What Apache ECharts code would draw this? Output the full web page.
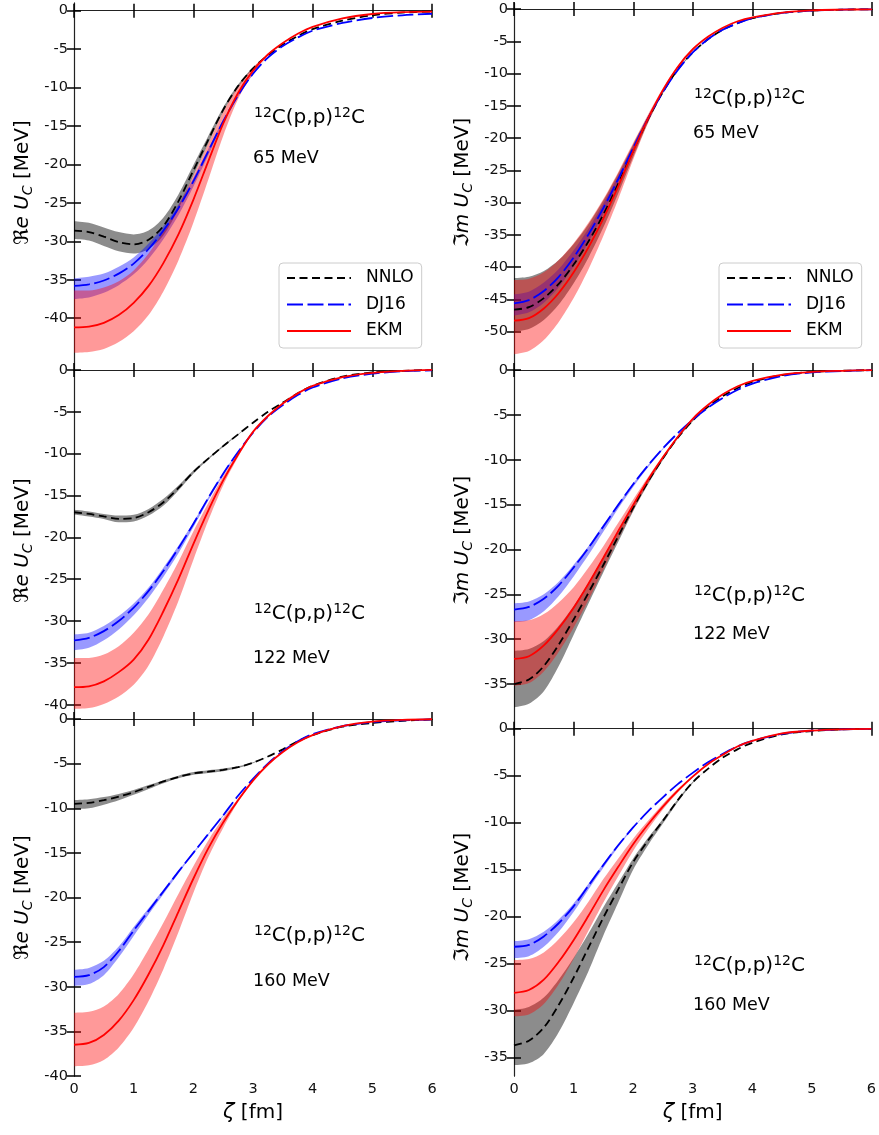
<!DOCTYPE html>
<html><head><meta charset="utf-8">
<script src="https://cdn.jsdelivr.net/npm/echarts@6/dist/echarts.min.js"></script>
<style>html,body{margin:0;padding:0;background:#fff}#c{width:879px;height:1135px}</style>
</head><body><div id="c"></div>
<script>
// ---------- data ----------
const xs = [0,0.25,0.5,0.75,1,1.25,1.5,1.75,2,2.25,2.5,2.75,3,3.25,3.5,3.75,4,4.5,5,5.5,6];
const xTicks = [0,1,2,3,4,5,6];
const yTicksRe65 = [0,-5,-10,-15,-20,-25,-30,-35,-40];
const yTicksIm65 = [0,-5,-10,-15,-20,-25,-30,-35,-40,-45,-50];
const yTicksRe122 = [0,-5,-10,-15,-20,-25,-30,-35,-40];
const yTicksIm122 = [0,-5,-10,-15,-20,-25,-30,-35];
const yTicksRe160 = [0,-5,-10,-15,-20,-25,-30,-35,-40];
const yTicksIm160 = [0,-5,-10,-15,-20,-25,-30,-35];
const modelNames = ['NNLO','DJ16','EKM'];
const energies = ['65 MeV','65 MeV','122 MeV','122 MeV','160 MeV','160 MeV'];

// Re, 65 MeV
const re65NNLO   = [-28.6,-28.8,-29.4,-30.1,-30.4,-29.8,-28.0,-24.8,-20.8,-16.8,-12.9,-9.8,-7.5,-5.8,-4.4,-3.3,-2.4,-1.3,-0.6,-0.25,-0.1];
const re65NNLOhi = [-27.4,-27.6,-28.2,-28.8,-29.1,-28.6,-26.9,-23.9,-20.1,-16.3,-12.6,-9.6,-7.4,-5.8,-4.4,-3.3,-2.4,-1.3,-0.6,-0.25,-0.1];
const re65NNLOlo = [-29.7,-29.9,-30.6,-31.3,-31.6,-31.0,-29.2,-25.8,-21.5,-17.3,-13.2,-10.0,-7.6,-5.8,-4.4,-3.3,-2.4,-1.3,-0.6,-0.25,-0.1];
const re65DJ16   = [-35.8,-35.6,-35.1,-34.2,-32.9,-31.0,-28.6,-25.7,-22.2,-18.3,-14.4,-11.0,-8.2,-6.1,-4.6,-3.5,-2.6,-1.6,-0.95,-0.6,-0.4];
const re65DJ16hi = [-34.8,-34.6,-34.2,-33.3,-32.1,-30.3,-28.0,-25.2,-21.8,-18.0,-14.2,-10.9,-8.1,-6.1,-4.6,-3.5,-2.6,-1.6,-0.95,-0.6,-0.4];
const re65DJ16lo = [-37.5,-37.3,-36.7,-35.7,-34.3,-32.3,-29.7,-26.6,-22.9,-18.8,-14.7,-11.2,-8.3,-6.1,-4.6,-3.5,-2.6,-1.6,-0.95,-0.6,-0.4];
const re65EKM    = [-41.2,-41.1,-40.6,-39.6,-38.0,-35.8,-32.8,-29.1,-24.6,-19.6,-14.7,-10.7,-7.8,-5.7,-4.2,-3.0,-2.1,-1.0,-0.43,-0.2,-0.13];
const re65EKMhi  = [-36.4,-36.4,-36.0,-35.2,-33.8,-31.6,-28.7,-25.4,-21.5,-17.3,-13.2,-9.9,-7.4,-5.6,-4.2,-3.0,-2.1,-1.0,-0.43,-0.2,-0.13];
const re65EKMlo  = [-44.5,-44.4,-44.0,-43.1,-41.7,-39.6,-36.5,-32.5,-27.6,-22.0,-16.3,-11.5,-8.2,-5.8,-4.2,-3.0,-2.1,-1.0,-0.43,-0.2,-0.13];

// Im, 65 MeV
const im65NNLO   = [-46.6,-46.2,-44.8,-42.6,-39.6,-36.0,-31.8,-27.0,-21.9,-17.0,-12.8,-9.3,-6.7,-4.7,-3.2,-2.2,-1.4,-0.6,-0.25,-0.1,-0.05];
const im65NNLOhi = [-41.7,-41.5,-40.6,-38.9,-36.4,-33.3,-29.6,-25.4,-20.9,-16.5,-12.6,-9.2,-6.6,-4.7,-3.2,-2.2,-1.4,-0.6,-0.25,-0.1,-0.05];
const im65NNLOlo = [-50.0,-49.6,-48.2,-45.8,-42.5,-38.5,-33.8,-28.5,-22.9,-17.5,-13.0,-9.4,-6.8,-4.7,-3.2,-2.2,-1.4,-0.6,-0.25,-0.1,-0.05];
const im65DJ16   = [-45.6,-45.1,-43.7,-41.5,-38.5,-34.9,-30.8,-26.3,-21.5,-16.9,-12.8,-9.4,-6.7,-4.7,-3.2,-2.2,-1.4,-0.6,-0.25,-0.1,-0.05];
const im65DJ16hi = [-44.2,-43.8,-42.4,-40.3,-37.4,-34.0,-30.1,-25.8,-21.2,-16.7,-12.7,-9.3,-6.7,-4.7,-3.2,-2.2,-1.4,-0.6,-0.25,-0.1,-0.05];
const im65DJ16lo = [-47.5,-47.0,-45.5,-43.1,-39.9,-36.1,-31.7,-26.9,-21.8,-17.1,-12.9,-9.5,-6.7,-4.7,-3.2,-2.2,-1.4,-0.6,-0.25,-0.1,-0.05];
const im65EKM    = [-48.3,-47.9,-46.4,-44.0,-40.8,-36.9,-32.4,-27.4,-22.0,-16.9,-12.5,-8.9,-6.2,-4.3,-2.9,-1.9,-1.3,-0.55,-0.2,-0.1,-0.05];
const im65EKMhi  = [-42.0,-41.8,-40.8,-38.9,-36.3,-33.1,-29.4,-25.2,-20.7,-16.3,-12.2,-8.8,-6.1,-4.3,-2.9,-1.9,-1.3,-0.55,-0.2,-0.1,-0.05];
const im65EKMlo  = [-53.5,-53.0,-51.3,-48.5,-44.8,-40.3,-35.1,-29.4,-23.3,-17.6,-12.8,-9.0,-6.3,-4.3,-2.9,-1.9,-1.3,-0.55,-0.2,-0.1,-0.05];

// Re, 122 MeV
const re122NNLO   = [-17.0,-17.2,-17.5,-17.8,-17.7,-17.0,-15.8,-14.1,-12.2,-10.6,-9.1,-7.7,-6.3,-5.0,-3.9,-2.8,-1.9,-0.8,-0.3,-0.1,0];
const re122NNLOhi = [-16.7,-16.9,-17.2,-17.4,-17.3,-16.6,-15.4,-13.8,-12.0,-10.5,-9.0,-7.65,-6.3,-5.0,-3.9,-2.8,-1.9,-0.8,-0.3,-0.1,0];
const re122NNLOlo = [-17.3,-17.5,-17.8,-18.2,-18.1,-17.4,-16.2,-14.4,-12.4,-10.7,-9.2,-7.75,-6.3,-5.0,-3.9,-2.8,-1.9,-0.8,-0.3,-0.1,0];
const re122DJ16   = [-32.3,-32.0,-31.2,-30.0,-28.4,-26.4,-24.0,-21.3,-18.4,-15.3,-12.4,-9.8,-7.5,-5.6,-4.2,-3.0,-2.1,-1.0,-0.45,-0.15,-0.05];
const re122DJ16hi = [-31.6,-31.4,-30.6,-29.4,-27.9,-26.0,-23.6,-21.0,-18.2,-15.2,-12.3,-9.75,-7.5,-5.6,-4.2,-3.0,-2.1,-1.0,-0.45,-0.15,-0.05];
const re122DJ16lo = [-33.5,-33.2,-32.3,-31.0,-29.3,-27.2,-24.7,-21.9,-18.8,-15.6,-12.6,-9.9,-7.5,-5.6,-4.2,-3.0,-2.1,-1.0,-0.45,-0.15,-0.05];
const re122EKM    = [-37.9,-37.8,-37.2,-36.1,-34.6,-32.2,-28.8,-25.0,-20.8,-16.8,-13.2,-10.1,-7.4,-5.5,-4.0,-2.8,-1.9,-0.85,-0.35,-0.1,0];
const re122EKMhi  = [-34.4,-34.4,-34.0,-33.0,-31.4,-29.2,-26.2,-22.9,-19.3,-15.9,-12.7,-9.9,-7.3,-5.5,-4.0,-2.8,-1.9,-0.85,-0.35,-0.1,0];
const re122EKMlo  = [-40.5,-40.4,-39.9,-39.0,-37.6,-35.3,-31.8,-27.6,-22.7,-18.0,-13.8,-10.4,-7.5,-5.5,-4.0,-2.8,-1.9,-0.85,-0.35,-0.1,0];

// Im, 122 MeV
const im122NNLO   = [-35.0,-34.5,-33.0,-30.6,-27.8,-24.8,-21.7,-18.5,-15.3,-12.4,-9.8,-7.5,-5.6,-4.1,-2.9,-2.0,-1.3,-0.55,-0.2,-0.08,0];
const im122NNLOhi = [-31.3,-31.1,-30.2,-28.5,-26.3,-23.7,-20.9,-17.9,-14.9,-12.1,-9.6,-7.4,-5.5,-4.1,-2.9,-2.0,-1.3,-0.55,-0.2,-0.08,0];
const im122NNLOlo = [-37.6,-37.2,-35.8,-33.0,-29.5,-26.0,-22.5,-19.1,-15.7,-12.7,-10.0,-7.6,-5.7,-4.1,-2.9,-2.0,-1.3,-0.55,-0.2,-0.08,0];
const im122DJ16   = [-26.7,-26.4,-25.5,-24.0,-22.0,-19.8,-17.4,-15.0,-12.7,-10.6,-8.7,-7.0,-5.5,-4.2,-3.1,-2.2,-1.5,-0.65,-0.25,-0.1,0];
const im122DJ16hi = [-26.0,-25.8,-25.0,-23.6,-21.7,-19.6,-17.2,-14.9,-12.6,-10.55,-8.7,-7.0,-5.5,-4.2,-3.1,-2.2,-1.5,-0.65,-0.25,-0.1,0];
const im122DJ16lo = [-28.1,-27.9,-26.9,-25.2,-23.0,-20.6,-18.0,-15.4,-13.0,-10.8,-8.8,-7.0,-5.5,-4.2,-3.1,-2.2,-1.5,-0.65,-0.25,-0.1,0];
const im122EKM    = [-32.2,-31.9,-30.7,-28.8,-26.5,-23.8,-20.9,-17.9,-15.0,-12.2,-9.7,-7.4,-5.4,-3.9,-2.7,-1.8,-1.2,-0.5,-0.2,-0.08,0];
const im122EKMhi  = [-28.0,-27.9,-27.2,-25.9,-24.2,-22.0,-19.6,-17.0,-14.4,-11.9,-9.5,-7.3,-5.35,-3.9,-2.7,-1.8,-1.2,-0.5,-0.2,-0.08,0];
const im122EKMlo  = [-35.2,-34.9,-33.6,-31.4,-28.7,-25.6,-22.2,-18.8,-15.6,-12.6,-9.9,-7.5,-5.5,-3.9,-2.7,-1.8,-1.2,-0.5,-0.2,-0.08,0];

// Re, 160 MeV
const re160NNLO   = [-9.5,-9.4,-9.1,-8.7,-8.2,-7.6,-7.0,-6.5,-6.1,-5.9,-5.7,-5.4,-4.9,-4.2,-3.4,-2.5,-1.8,-0.85,-0.45,-0.2,-0.05];
const re160NNLOhi = [-9.1,-9.0,-8.75,-8.4,-7.95,-7.4,-6.85,-6.35,-5.95,-5.75,-5.55,-5.3,-4.85,-4.2,-3.4,-2.5,-1.8,-0.85,-0.45,-0.2,-0.05];
const re160NNLOlo = [-10.1,-10.0,-9.6,-9.1,-8.5,-7.85,-7.2,-6.65,-6.25,-6.05,-5.85,-5.5,-4.95,-4.2,-3.4,-2.5,-1.8,-0.85,-0.45,-0.2,-0.05];
const re160DJ16   = [-28.9,-28.7,-27.8,-26.0,-23.7,-21.5,-19.3,-17.1,-15.0,-12.9,-10.8,-8.6,-6.7,-5.0,-3.6,-2.5,-1.7,-0.8,-0.35,-0.15,-0.05];
const re160DJ16hi = [-28.1,-27.9,-27.1,-25.5,-23.3,-21.2,-19.1,-17.0,-14.9,-12.85,-10.75,-8.6,-6.7,-5.0,-3.6,-2.5,-1.7,-0.8,-0.35,-0.15,-0.05];
const re160DJ16lo = [-29.9,-29.7,-28.7,-26.7,-24.3,-21.9,-19.6,-17.3,-15.1,-13.0,-10.9,-8.6,-6.7,-5.0,-3.6,-2.5,-1.7,-0.8,-0.35,-0.15,-0.05];
const re160EKM    = [-36.5,-36.3,-35.4,-33.8,-31.5,-28.6,-25.3,-21.6,-17.9,-14.5,-11.6,-9.1,-6.9,-5.1,-3.7,-2.6,-1.8,-0.8,-0.3,-0.1,-0.03];
const re160EKMhi  = [-32.9,-32.8,-32.2,-30.8,-28.6,-25.8,-22.8,-19.6,-16.5,-13.6,-11.1,-8.9,-6.8,-5.1,-3.7,-2.6,-1.8,-0.8,-0.3,-0.1,-0.03];
const re160EKMlo  = [-38.9,-38.8,-38.2,-36.8,-34.6,-31.6,-28.0,-23.9,-19.5,-15.5,-12.2,-9.3,-7.0,-5.1,-3.7,-2.6,-1.8,-0.8,-0.3,-0.1,-0.03];

// Im, 160 MeV
const im160NNLO   = [-33.7,-33.2,-31.8,-29.4,-26.5,-23.3,-20.1,-17.1,-14.2,-11.9,-9.8,-7.6,-5.7,-4.3,-3.1,-2.2,-1.5,-0.6,-0.25,-0.08,-0.02];
const im160NNLOhi = [-29.9,-29.6,-28.6,-26.7,-24.4,-21.8,-19.0,-16.4,-13.8,-11.6,-9.6,-7.5,-5.65,-4.3,-3.1,-2.2,-1.5,-0.6,-0.25,-0.08,-0.02];
const im160NNLOlo = [-35.8,-35.6,-34.6,-32.3,-29.2,-25.8,-22.0,-18.5,-15.0,-12.4,-10.1,-7.8,-5.8,-4.3,-3.1,-2.2,-1.5,-0.6,-0.25,-0.08,-0.02];
const im160DJ16   = [-23.2,-23.0,-22.1,-20.7,-18.9,-16.7,-14.5,-12.4,-10.5,-8.8,-7.3,-5.9,-4.7,-3.6,-2.7,-1.9,-1.3,-0.55,-0.2,-0.08,-0.02];
const im160DJ16hi = [-22.6,-22.4,-21.6,-20.3,-18.6,-16.5,-14.35,-12.3,-10.45,-8.8,-7.3,-5.9,-4.7,-3.6,-2.7,-1.9,-1.3,-0.55,-0.2,-0.08,-0.02];
const im160DJ16lo = [-24.4,-24.2,-23.2,-21.6,-19.5,-17.1,-14.8,-12.6,-10.6,-8.85,-7.3,-5.9,-4.7,-3.6,-2.7,-1.9,-1.3,-0.55,-0.2,-0.08,-0.02];
const im160EKM    = [-28.1,-27.8,-26.7,-24.8,-22.5,-19.9,-17.2,-14.7,-12.3,-10.2,-8.3,-6.6,-5.1,-3.8,-2.8,-1.9,-1.3,-0.5,-0.2,-0.07,-0.02];
const im160EKMhi  = [-24.6,-24.5,-23.8,-22.4,-20.6,-18.4,-16.0,-13.8,-11.7,-9.8,-8.0,-6.4,-5.0,-3.8,-2.8,-1.9,-1.3,-0.5,-0.2,-0.07,-0.02];
const im160EKMlo  = [-30.6,-30.4,-29.3,-27.2,-24.5,-21.5,-18.5,-15.7,-13.0,-10.7,-8.6,-6.8,-5.2,-3.8,-2.8,-1.9,-1.3,-0.5,-0.2,-0.07,-0.02];

// ---------- layout / styles ----------
const FONT = 'DejaVu Sans';
const panels = [
  {left:74,  top:3,   height:359, min:-45.7, max:1.0,  ticks:yTicksRe65,  kind:'re', ax:254, ay:118, ey:158, bottom:false, legend:true,
   m:[[re65NNLO,re65NNLOlo,re65NNLOhi],[re65DJ16,re65DJ16lo,re65DJ16hi],[re65EKM,re65EKMlo,re65EKMhi]]},
  {left:514, top:3,   height:359, min:-54.7, max:0.93, ticks:yTicksIm65,  kind:'im', ax:694, ay:99,  ey:133, bottom:false, legend:true,
   m:[[im65NNLO,im65NNLOlo,im65NNLOhi],[im65DJ16,im65DJ16lo,im65DJ16hi],[im65EKM,im65EKMlo,im65EKMhi]]},
  {left:74,  top:362, height:357, min:-41.7, max:0.95, ticks:yTicksRe122, kind:'re', ax:254, ay:614, ey:658, bottom:false,
   m:[[re122NNLO,re122NNLOlo,re122NNLOhi],[re122DJ16,re122DJ16lo,re122DJ16hi],[re122EKM,re122EKMlo,re122EKMhi]]},
  {left:514, top:362, height:357, min:-38.9, max:0.9,  ticks:yTicksIm122, kind:'im', ax:694, ay:596, ey:634, bottom:false,
   m:[[im122NNLO,im122NNLOlo,im122NNLOhi],[im122DJ16,im122DJ16lo,im122DJ16hi],[im122EKM,im122EKMlo,im122EKMhi]]},
  {left:74,  top:719, height:357, min:-40,   max:0,    ticks:yTicksRe160, kind:'re', ax:254, ay:936, ey:981, bottom:true,
   m:[[re160NNLO,re160NNLOlo,re160NNLOhi],[re160DJ16,re160DJ16lo,re160DJ16hi],[re160EKM,re160EKMlo,re160EKMhi]]},
  {left:514, top:719, height:357, min:-36.95,max:1.03, ticks:yTicksIm160, kind:'im', ax:694, ay:966, ey:1005, bottom:true,
   m:[[im160NNLO,im160NNLOlo,im160NNLOhi],[im160DJ16,im160DJ16lo,im160DJ16hi],[im160EKM,im160EKMlo,im160EKMhi]]}
];
const lineColors = ['#000000','#0000ff','#ff0000'];
const bandColors = ['rgba(0,0,0,0.45)','rgba(0,0,255,0.40)','rgba(255,0,0,0.40)'];
const dashes = [[8,4.5],[16,4.5],'solid'];
const SMOOTH = 0.3;

const grid = [], xAxis = [], yAxis = [], series = [], graphic = [], legend = [];
const axisLineStyle = {lineStyle:{color:'#222', width:1.1}};
const tickStyle = {inside:true, length:7, lineStyle:{color:'#000', width:1.5}};

panels.forEach((p, g) => {
  grid.push({left:p.left, top:p.top, width:358, height:p.height, containLabel:false});
  xAxis.push({type:'value', gridIndex:g, min:0, max:6, interval:1, position:'bottom',
    axisLine:axisLineStyle, axisTick:tickStyle, splitLine:{show:false},
    axisLabel:{show:p.bottom, margin:6, color:'#111', fontSize:14.5, fontFamily:FONT},
    name: p.bottom ? '{i|ζ} [fm]' : '', nameLocation:'middle', nameGap:26,
    nameTextStyle:{fontSize:20, fontFamily:FONT, color:'#000', rich:{i:{fontSize:21, fontStyle:'italic', fontFamily:FONT}}}
  });
  xAxis.push({type:'value', gridIndex:g, min:0, max:6, interval:1, position:'top',
    axisLine:axisLineStyle, axisTick:tickStyle, splitLine:{show:false}, axisLabel:{show:false}});
  const sym = p.kind === 're' ? 'ℜ' : 'ℑ';
  const sec = p.kind === 're' ? 'e' : 'm';
  yAxis.push({type:'value', gridIndex:g, min:p.min, max:p.max, position:'left',
    axisLine:axisLineStyle, splitLine:{show:false},
    axisTick:Object.assign({customValues:p.ticks}, tickStyle),
    axisLabel:{customValues:p.ticks, margin:6, color:'#111', fontSize:14.5, fontFamily:FONT, formatter:v=>String(v)},
    name:'{f|' + sym + '}{i|' + sec + '} {i|U}{s|C} [MeV]', nameLocation:'middle', nameGap:39,
    nameTextStyle:{fontSize:20, fontFamily:FONT, color:'#000', lineHeight:24,
      rich:{f:{fontSize:20, fontFamily:FONT, lineHeight:24}, i:{fontSize:20, fontStyle:'italic', fontFamily:FONT, lineHeight:24},
            s:{fontSize:14, fontStyle:'italic', fontFamily:FONT, lineHeight:11, verticalAlign:'bottom'}}}
  });
  yAxis.push({type:'value', gridIndex:g, min:p.min, max:p.max, position:'right',
    axisLine:axisLineStyle, splitLine:{show:false},
    axisTick:Object.assign({customValues:p.ticks}, tickStyle), axisLabel:{show:false}});

  const xi = 2*g, yi = 2*g;
  // uncertainty bands: lower edge + stacked (upper - lower); value first so the stack runs along y
  p.m.forEach((mod, k) => {
    const lo = mod[1], hi = mod[2];
    const st = 'band' + g + '_' + k;
    series.push({type:'line', xAxisIndex:xi, yAxisIndex:yi, stack:st, stackStrategy:'all',
      encode:{x:1, y:0},
      data: xs.map((x,i)=>[lo[i], x]), symbol:'none', smooth:SMOOTH,
      lineStyle:{opacity:0, width:0}, silent:true, z:1, animation:false});
    series.push({type:'line', xAxisIndex:xi, yAxisIndex:yi, stack:st, stackStrategy:'all',
      encode:{x:1, y:0},
      data: xs.map((x,i)=>[hi[i]-lo[i], x]), symbol:'none', smooth:SMOOTH,
      lineStyle:{opacity:0, width:0}, areaStyle:{color:bandColors[k], opacity:1}, silent:true, z:1, animation:false});
  });
  p.m.forEach((mod, k) => {
    series.push({type:'line', name:modelNames[k], xAxisIndex:xi, yAxisIndex:yi,
      data: xs.map((x,i)=>[x, mod[0][i]]), symbol:'none', smooth:SMOOTH,
      lineStyle:{color:lineColors[k], width:1.8, type:dashes[k]}, itemStyle:{color:lineColors[k]}, z:3, animation:false});
  });
  graphic.push({type:'text', x:p.ax, y:p.ay, z:10, style:{
    text:'{s|12}{m|C(p,p)}{s|12}{m|C}', verticalAlign:'middle', textVerticalAlign:'middle', fill:'#000',
    font:'20px ' + FONT,
    rich:{m:{fontSize:20, fontFamily:FONT, lineHeight:24, fill:'#000'}, s:{fontSize:14, fontFamily:FONT, lineHeight:12, verticalAlign:'top', fill:'#000'}}}});
  graphic.push({type:'text', x:p.ax - 1, y:p.ey, z:10, style:{
    text:energies[g], verticalAlign:'middle', textVerticalAlign:'middle', fill:'#000', font:'17.5px ' + FONT}});
  if (p.legend) {
    legend.push({orient:'vertical', left:p.left + 205, top:263, data:modelNames,
      itemWidth:64, itemHeight:18, itemGap:8.5, padding:[6,8,8,7],
      backgroundColor:'rgba(255,255,255,0.85)', borderColor:'#cccccc', borderWidth:1, borderRadius:4,
      itemStyle:{opacity:0, borderWidth:0}, selectedMode:false,
      textStyle:{fontSize:17, fontFamily:FONT, color:'#000', padding:[0,0,0,10], lineHeight:18}});
  }
});

const chart = echarts.init(document.getElementById('c'), null, {renderer:'canvas'});
chart.setOption({animation:false, backgroundColor:'#fff', grid, xAxis, yAxis, series, legend, graphic});
</script></body></html>
